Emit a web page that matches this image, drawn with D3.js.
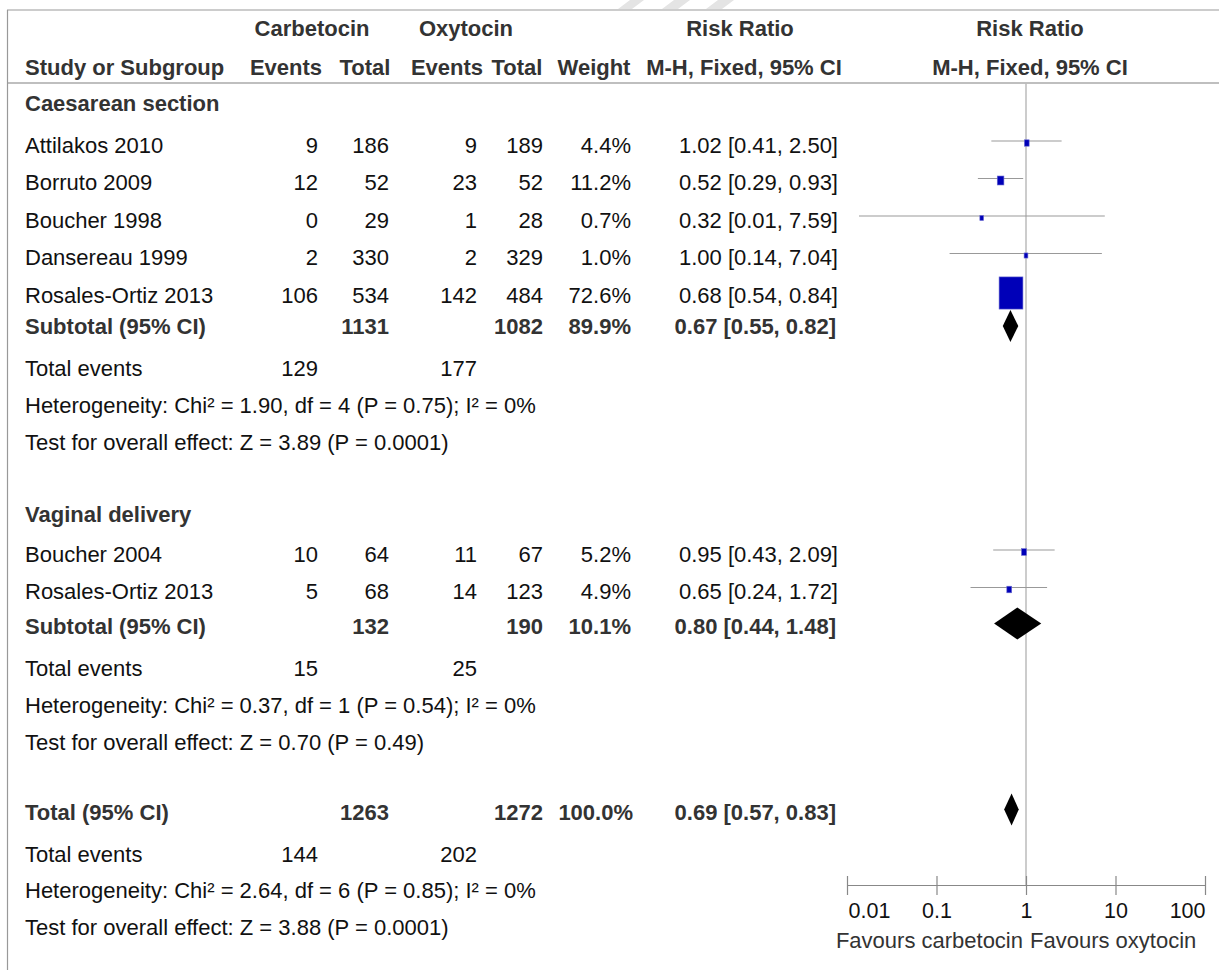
<!DOCTYPE html>
<html>
<head>
<meta charset="utf-8">
<script src="https://cdn.jsdelivr.net/npm/d3@7"></script>
<style>
  html, body { margin: 0; padding: 0; background: #fff; }
  svg { display: block; }
</style>
</head>
<body>
<svg id="chart" width="1219" height="970"></svg>
<script>
// ---------------- DATA ----------------
const groupNames = ["Caesarean section", "Vaginal delivery"];
const studyNames = ["Attilakos 2010", "Borruto 2009", "Boucher 1998", "Dansereau 1999", "Rosales-Ortiz 2013", "Boucher 2004", "Rosales-Ortiz 2013"];
const studyGroup = [0, 0, 0, 0, 0, 1, 1];
const carbEvents = [9, 12, 0, 2, 106, 10, 5];
const carbTotal  = [186, 52, 29, 330, 534, 64, 68];
const oxyEvents  = [9, 23, 1, 2, 142, 11, 14];
const oxyTotal   = [189, 52, 28, 329, 484, 67, 123];
const weights    = [4.4, 11.2, 0.7, 1.0, 72.6, 5.2, 4.9];
const rr         = [1.02, 0.52, 0.32, 1.00, 0.68, 0.95, 0.65];
const ciLow      = [0.41, 0.29, 0.0136, 0.14, 0.54, 0.43, 0.24];
const ciHigh     = [2.50, 0.93, 7.59, 7.04, 0.84, 2.09, 1.72];

const subCarbTotal  = [1131, 132];
const subOxyTotal   = [1082, 190];
const subWeight     = [89.9, 10.1];
const subRR         = [0.67, 0.80];
const subLow        = [0.55, 0.44];
const subHigh       = [0.82, 1.48];
const subCarbEvents = [129, 15];
const subOxyEvents  = [177, 25];
const subHet  = ["Heterogeneity: Chi² = 1.90, df = 4 (P = 0.75); I² = 0%", "Heterogeneity: Chi² = 0.37, df = 1 (P = 0.54); I² = 0%"];
const subTest = ["Test for overall effect: Z = 3.89 (P = 0.0001)", "Test for overall effect: Z = 0.70 (P = 0.49)"];

const totCarbTotal = 1263, totOxyTotal = 1272, totWeight = 100.0;
const totRR = 0.69, totLow = 0.57, totHigh = 0.83;
const totCarbEvents = 144, totOxyEvents = 202;
const totHet  = "Heterogeneity: Chi² = 2.64, df = 6 (P = 0.85); I² = 0%";
const totTest = "Test for overall effect: Z = 3.88 (P = 0.0001)";

const axisTicks = [0.01, 0.1, 1, 10, 100];
const axisTickLabels = ["0.01", "0.1", "1", "10", "100"];
const favourLabels = ["Favours carbetocin", "Favours oxytocin"];

// ---------------- LAYOUT ----------------
const svg = d3.select("#chart");
const FONT = "'Liberation Sans', Arial, Helvetica, sans-serif";
const FS = 22;
const x = d3.scaleLog().domain([0.01, 100]).range([847, 1205]);
const boxW = d3.scaleLinear().domain([0, 100]).range([3.5, 31.5]);

const col = { study: 25, cE: 318, cT: 389, oE: 477, oT: 543, w: 631, ci: 838 };

function txt(xp, yc, s, anchor = "start", bold = false, fill = null, size = FS) {
  return svg.append("text")
    .attr("x", xp).attr("y", yc + size * 0.36)
    .attr("text-anchor", anchor)
    .attr("font-family", FONT)
    .attr("font-size", size)
    .attr("font-weight", bold ? "bold" : "normal")
    .attr("fill", fill || (bold ? "#333" : "#111"))
    .text(s);
}
const f2 = v => v.toFixed(2);
const ciStr = (r, l, h) => `${f2(r)} [${f2(l)}, ${f2(h)}]`;

// watermark stripes (faint)
[[618, 640], [662, 686], [706, 730]].forEach(([a, b]) => {
  svg.append("polygon")
    .attr("points", `${a},9 ${a + 12},0 ${b + 4},0 ${b - 8},9`)
    .attr("fill", "#e4e4e4");
});

// frame lines
svg.append("line").attr("x1", 7).attr("x2", 1219).attr("y1", 10).attr("y2", 10).attr("stroke", "#999").attr("stroke-width", 1.2);
svg.append("line").attr("x1", 7).attr("x2", 1219).attr("y1", 83).attr("y2", 83).attr("stroke", "#aaa").attr("stroke-width", 1.5);
svg.append("line").attr("x1", 7.5).attr("x2", 7.5).attr("y1", 10).attr("y2", 970).attr("stroke", "#999").attr("stroke-width", 1.2);

// null line
svg.append("line").attr("x1", x(1)).attr("x2", x(1)).attr("y1", 83).attr("y2", 885)
  .attr("stroke", "#bbb").attr("stroke-width", 1.5);

// headers
txt(312, 28, "Carbetocin", "middle", true);
txt(466, 28, "Oxytocin", "middle", true);
txt(740, 28, "Risk Ratio", "middle", true);
txt(1030, 28, "Risk Ratio", "middle", true);
txt(col.study, 67, "Study or Subgroup", "start", true);
txt(286, 67, "Events", "middle", true);
txt(365, 67, "Total", "middle", true);
txt(447, 67, "Events", "middle", true);
txt(517, 67, "Total", "middle", true);
txt(594, 67, "Weight", "middle", true);
txt(744, 67, "M-H, Fixed, 95% CI", "middle", true);
txt(1030, 67, "M-H, Fixed, 95% CI", "middle", true);

function diamond(yc, r, l, h) {
  svg.append("polygon")
    .attr("points", `${x(l)},${yc} ${x(r)},${yc - 16} ${x(h)},${yc} ${x(r)},${yc + 16}`)
    .attr("fill", "#000");
}

let y = 103;
const firstStep = [42, 40];
const groupGap = [72, 70];
groupNames.forEach((gname, g) => {
  txt(col.study, y, gname, "start", true);
  y += firstStep[g];
  const idx = studyNames.map((_, i) => i).filter(i => studyGroup[i] === g);
  idx.forEach((i, k) => {
    if (k > 0) y += 37.5;
    txt(col.study, y, studyNames[i]);
    txt(col.cE, y, carbEvents[i], "end");
    txt(col.cT, y, carbTotal[i], "end");
    txt(col.oE, y, oxyEvents[i], "end");
    txt(col.oT, y, oxyTotal[i], "end");
    txt(col.w, y, weights[i].toFixed(1) + "%", "end");
    txt(col.ci, y, ciStr(rr[i], ciLow[i], ciHigh[i]), "end");
    const my = y - 4;
    svg.append("line").attr("x1", x(ciLow[i])).attr("x2", x(ciHigh[i]))
      .attr("y1", my).attr("y2", my).attr("stroke", "#999").attr("stroke-width", 1.2);
    const w = boxW(weights[i]), h = w * 1.35;
    svg.append("rect").attr("x", x(rr[i]) - w / 2).attr("y", my - h / 2 + 2)
      .attr("width", w).attr("height", h)
      .attr("fill", "#0000b8").attr("stroke", "#6a6ad0").attr("stroke-width", 0.6);
  });
  y += (g === 0 ? 31 : 35);
  txt(col.study, y, "Subtotal (95% CI)", "start", true);
  txt(col.cT, y, subCarbTotal[g], "end", true);
  txt(col.oT, y, subOxyTotal[g], "end", true);
  txt(col.w, y, subWeight[g].toFixed(1) + "%", "end", true);
  txt(col.ci - 2, y, ciStr(subRR[g], subLow[g], subHigh[g]), "end", true);
  diamond(y - (g === 0 ? 0 : 3), subRR[g], subLow[g], subHigh[g]);
  y += 42;
  txt(col.study, y, "Total events");
  txt(col.cE, y, subCarbEvents[g], "end");
  txt(col.oE, y, subOxyEvents[g], "end");
  y += 37;
  txt(col.study, y, subHet[g]);
  y += 37;
  txt(col.study, y, subTest[g]);
  y += groupGap[g];
});

// overall
txt(col.study, y, "Total (95% CI)", "start", true);
txt(col.cT, y, totCarbTotal, "end", true);
txt(col.oT, y, totOxyTotal, "end", true);
txt(col.w + 2, y, totWeight.toFixed(1) + "%", "end", true);
txt(col.ci - 2, y, ciStr(totRR, totLow, totHigh), "end", true);
diamond(y - 3, totRR, totLow, totHigh);
y += 42;
txt(col.study, y, "Total events");
txt(col.cE, y, totCarbEvents, "end");
txt(col.oE, y, totOxyEvents, "end");
y += 36;
txt(col.study, y, totHet);
y += 37;
txt(col.study, y, totTest);

// axis
const axisG = svg.append("g").attr("transform", "translate(0,885)")
  .call(d3.axisBottom(x).tickValues(axisTicks)
    .tickFormat((d, i) => axisTickLabels[i]).tickSizeOuter(0));
axisG.select(".domain").attr("stroke", "#888").attr("stroke-width", 1.2);
axisG.selectAll(".tick line").attr("y1", -9).attr("y2", 10).attr("stroke", "#888").attr("stroke-width", 1.2);
axisG.selectAll(".tick text")
  .attr("font-family", FONT).attr("font-size", 21.5).attr("fill", "#111")
  .attr("y", 33).attr("dy", 0)
  .attr("text-anchor", (d, i) => i === 0 ? "start" : (i === axisTicks.length - 1 ? "end" : "middle"))
  .attr("x", (d, i) => i === 0 ? 1 : 0);
txt(x(1) - 3, 940, favourLabels[0], "end", false, "#333", 22);
txt(x(1) + 4, 940, favourLabels[1], "start", false, "#333", 22);
</script>
</body>
</html>
